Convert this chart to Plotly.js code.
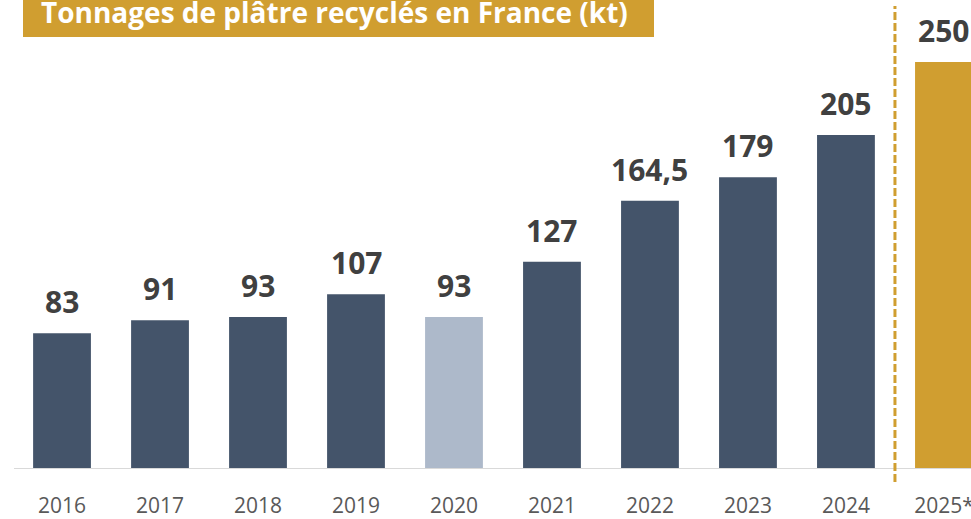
<!DOCTYPE html>
<html><head><meta charset="utf-8">
<script src="https://cdn.plot.ly/plotly-3.0.1.min.js"></script>
<style>html,body{margin:0;padding:0;background:#fff}#chart{width:971px;height:519px}</style>
</head><body><div id="chart"></div>
<script>
var years = ['2016','2017','2018','2019','2020','2021','2022','2023','2024','2025*'];
var tonnages = [83, 91, 93, 107, 93, 127, 164.5, 179, 205, 250];
var barColors = ['#44546A','#44546A','#44546A','#44546A','#ADB9CA','#44546A','#44546A','#44546A','#44546A','#D09E30'];
var titleText = 'Tonnages de plâtre recyclés en France (kt)';

var labels = tonnages.map(function(v){ return String(v).replace('.', ','); });

var annotations = years.map(function(y, i){
  return {x: i, y: tonnages[i], xref:'x', yref:'y', text: labels[i], showarrow:false,
    yanchor:'bottom', yshift: 9, font:{family:'Open Sans', size:30, color:'#404040', weight:700}};
});
annotations.push({xref:'paper', yref:'paper', x:(39-14)/957, y:1, xanchor:'left', yanchor:'top', yshift:9,
  text:'<b>'+titleText+'</b>', showarrow:false, font:{family:'Open Sans', size:28, color:'#ffffff'}});

var layout = {
  width:971, height:519,
  margin:{l:14, r:0, t:0, b:51},
  paper_bgcolor:'#ffffff', plot_bgcolor:'#ffffff',
  showlegend:false,
  bargap:0.41,
  xaxis:{type:'category', range:[-0.49, 9.276], showgrid:false, zeroline:false,
    showline:true, linecolor:'#D9D9D9', linewidth:1,
    ticks:'outside', ticklen:19, tickcolor:'rgba(0,0,0,0)', ticklabeloverflow:'allow',
    tickfont:{family:'Open Sans', size:21, color:'#595959'}},
  yaxis:{range:[0, 288.2], visible:false, showgrid:false, zeroline:false, fixedrange:true},
  shapes:[
    {type:'rect', xref:'paper', yref:'paper', x0:(23-14)/957, x1:(654-14)/957, y0:(468-37)/468, y1:1.02,
      fillcolor:'#D09E30', line:{width:0}, layer:'above'},
    {type:'line', xref:'x', yref:'paper', x0:8.5, x1:8.5, y0:-0.03, y1:(468-6)/468,
      line:{color:'#D09E30', width:3, dash:'8px,3px'}}
  ],
  annotations: annotations
};

Plotly.newPlot('chart', [{
  type:'bar', x: years, y: tonnages,
  marker:{color: barColors, line:{width:0}},
  hoverinfo:'none'
}], layout, {displayModeBar:false, staticPlot:true});
</script></body></html>
